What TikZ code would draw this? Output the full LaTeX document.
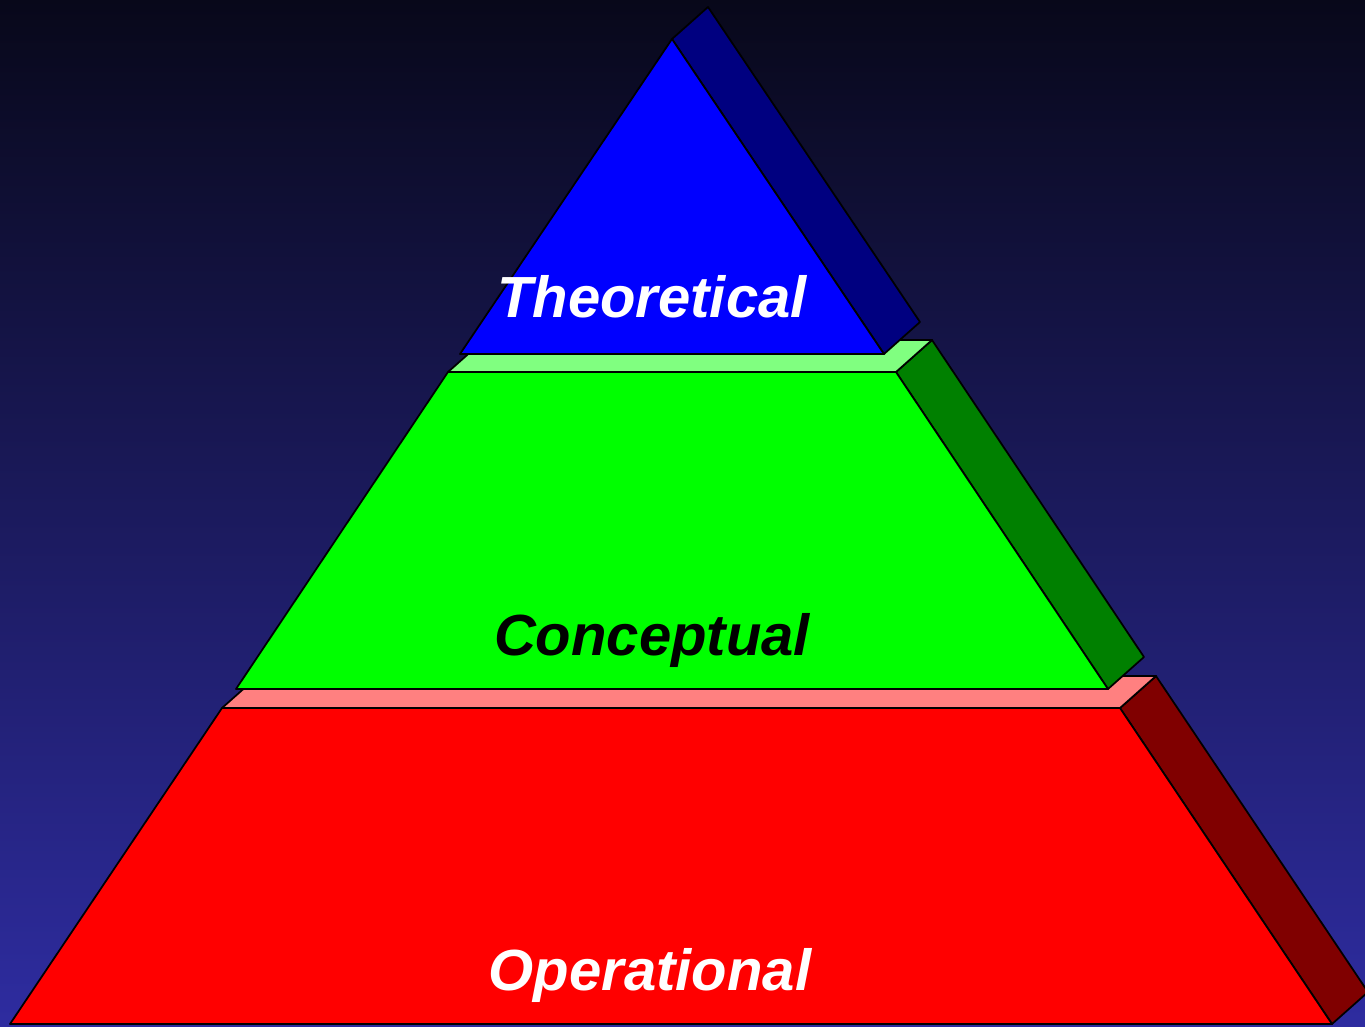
\documentclass[tikz,border=0pt]{standalone}
\usepackage{fontspec}
\setsansfont{Liberation Sans}
\usepackage{tikz}
\definecolor{bgtop}{RGB}{8,8,26}
\definecolor{bgbot}{RGB}{46,44,160}
\definecolor{opfront}{RGB}{255,0,0}
\definecolor{optop}{RGB}{255,128,128}
\definecolor{opside}{RGB}{128,0,0}
\definecolor{cofront}{RGB}{0,255,0}
\definecolor{cotop}{RGB}{128,255,128}
\definecolor{coside}{RGB}{0,128,0}
\definecolor{thfront}{RGB}{0,0,255}
\definecolor{thside}{RGB}{0,0,128}
\tikzset{
  face/.style={draw=black,line width=0.5pt,line join=round},
  lvl/.style={font=\sffamily\bfseries\itshape\fontsize{16.5}{18}\selectfont,anchor=base,inner sep=0pt}
}

\begin{document}
\begin{tikzpicture}[x=0.01cm,y=-0.01cm]
\useasboundingbox (0,0) rectangle (1365,1026);
\shade[top color=bgtop,bottom color=bgbot] (0,0) rectangle (1365,1026);
\clip (0,0) rectangle (1365,1026);
% operational level
\draw[face,fill=opside] (1120,708) -- (1156,676) -- (1368,992) -- (1332,1024) -- cycle;
\draw[face,fill=optop] (222,708) -- (258,676) -- (1156,676) -- (1120,708) -- cycle;
\draw[face,fill=opfront] (222,708) -- (1120,708) -- (1332,1024) -- (10,1024) -- cycle;
\node[lvl,text=white] (op) at (650,990) {Operational};
% conceptual level
\draw[face,fill=coside] (896,372) -- (932,340) -- (1144,657) -- (1108,689) -- cycle;
\draw[face,fill=cotop] (448,372) -- (484,340) -- (932,340) -- (896,372) -- cycle;
\draw[face,fill=cofront] (448,372) -- (896,372) -- (1108,689) -- (236,689) -- cycle;
\node[lvl,text=black] (co) at (652,655) {Conceptual};
% theoretical level
\draw[face,fill=thside] (672,39) -- (708,7) -- (920,322) -- (884,354) -- cycle;
\draw[face,fill=thfront] (672,39) -- (884,354) -- (460,354) -- cycle;
\node[lvl,text=white] (th) at (652,317) {Theoretical};
\end{tikzpicture}
\end{document}
